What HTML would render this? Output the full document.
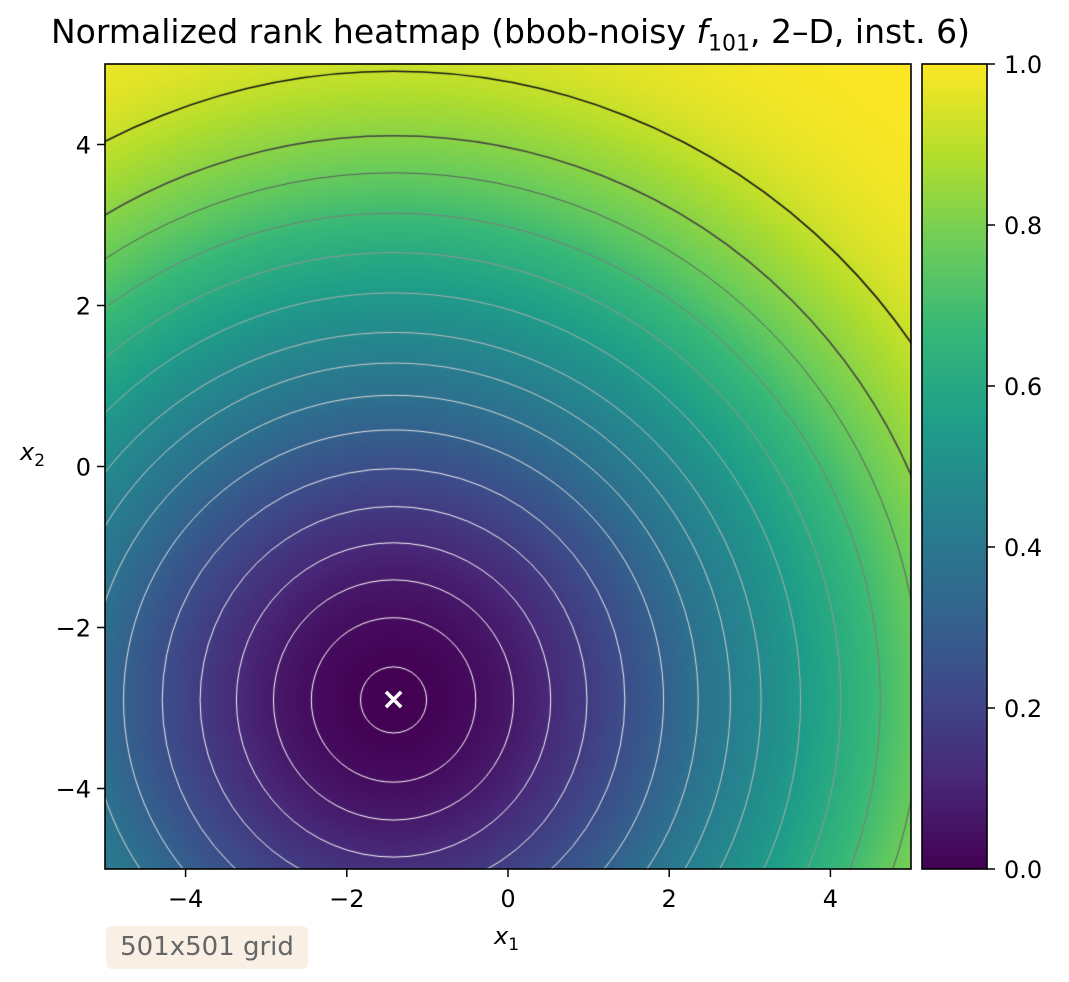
<!DOCTYPE html>
<html><head><meta charset="utf-8"><style>
body{margin:0;background:#fff;width:1069px;height:982px;position:relative;overflow:hidden;font-family:"DejaVu Sans","Liberation Sans",sans-serif;}
.abs{position:absolute;}
</style></head><body>
<div class="abs" style="left:0;width:1021px;top:12px;text-align:center;font-size:33px;white-space:nowrap;">Normalized rank heatmap (bbob-noisy <i>f</i><sub style="font-size:22px">101</sub>, 2–D, inst. 6)</div>
<canvas id="hm" class="abs" width="806" height="805" style="left:105px;top:64px;"></canvas>
<canvas id="cb" class="abs" width="65" height="805" style="left:922px;top:64px;"></canvas>
<svg id="ax" class="abs" width="1069" height="982" style="left:0;top:0"></svg>
<div class="abs" style="left:494px;top:922px;font-size:24px;"><i>x</i><sub style="font-size:17px">1</sub></div>
<div class="abs" style="left:20px;top:438px;font-size:24px;"><i>x</i><sub style="font-size:17px">2</sub></div>
<div class="abs" style="left:106px;top:926px;width:202px;height:43px;background:#f9efe5;border-radius:6px;color:#666;font-size:26px;line-height:43px;text-align:center;white-space:nowrap;">501x501 grid</div>
<script>
const xTicks=[-4,-2,0,2,4];
const yTicks=[-4,-2,0,2,4];
const cbTicks=[0.0,0.2,0.4,0.6,0.8,1.0];
const optimum=[-1.42,-2.9];
const gridN=201;
const contourLevels=[0.41,1.02,1.49,1.95,2.4,2.87,3.35,3.78,4.18,4.56,5.05,5.55,6.04,6.54,7.0,7.8];
const viridis=[[68,1,84],[72,40,120],[62,74,137],[49,104,142],[38,130,142],[31,158,137],[53,183,121],[109,205,89],[180,222,44],[253,231,37]];

const PX0=105,PX1=911,PY0=64,PY1=869;
const sx=v=>PX0+(v+5)/10*(PX1-PX0);
const sy=v=>PY1-(v+5)/10*(PY1-PY0);
function cmap(t){t=Math.max(0,Math.min(1,t));const f=t*(viridis.length-1);const i=Math.min(viridis.length-2,Math.floor(f));const u=f-i;
 return viridis[i].map((c,k)=>Math.round(c+(viridis[i+1][k]-c)*u));}
const d=[];for(let j=0;j<gridN;j++)for(let i=0;i<gridN;i++){const x=-5+10*i/(gridN-1),y=5-10*j/(gridN-1);d.push(Math.hypot(x-optimum[0],y-optimum[1]));}
const sorted=d.slice().sort((a,b)=>a-b);
function rankOf(v){let lo=0,hi=sorted.length;while(lo<hi){const m=(lo+hi)>>1;if(sorted[m]<v)lo=m+1;else hi=m;}return lo/(sorted.length-1);}
const small=document.createElement('canvas');small.width=gridN;small.height=gridN;
const sc=small.getContext('2d');const img=sc.createImageData(gridN,gridN);
d.forEach((v,k)=>{const c=cmap(rankOf(v));img.data[4*k]=c[0];img.data[4*k+1]=c[1];img.data[4*k+2]=c[2];img.data[4*k+3]=255;});
sc.putImageData(img,0,0);
const hm=document.getElementById('hm').getContext('2d');
hm.imageSmoothingEnabled=true;hm.drawImage(small,0,0,806,805);
hm.save();hm.beginPath();hm.rect(0,0,806,805);hm.clip();
contourLevels.forEach((r)=>{const rk=rankOf(r);const gg=Math.max(0,Math.min(255,Math.round(255*(1-rk*rk*1.1))));
 hm.strokeStyle=`rgb(${gg},${gg},${gg})`;hm.lineWidth=rk>0.8?1.6:1.0;
 hm.beginPath();hm.arc(sx(optimum[0])-PX0,sy(optimum[1])-PY0,r*(PX1-PX0)/10,0,2*Math.PI);hm.stroke();});
hm.restore();
const cb=document.getElementById('cb').getContext('2d');
for(let y=0;y<805;y++){const c=cmap(1-y/804);cb.fillStyle=`rgb(${c})`;cb.fillRect(0,y,65,1);}
const NS='http://www.w3.org/2000/svg';const svg=document.getElementById('ax');
function el(t,a){const e=document.createElementNS(NS,t);for(const k in a)e.setAttribute(k,a[k]);svg.appendChild(e);return e;}
const fr=el('rect',{x:PX0,y:PY0,width:PX1-PX0,height:PY1-PY0,fill:'none',stroke:'#000','stroke-width':1.6});

const cf=el('rect',{x:922,y:PY0,width:65,height:PY1-PY0,fill:'none',stroke:'#000','stroke-width':1.6});

const ms=el('text',{x:sx(optimum[0]),y:sy(optimum[1])+9,'text-anchor':'middle','font-size':30,'font-weight':'bold',fill:'#fff','font-family':'DejaVu Sans'});
ms.textContent='×';

const lab=v=>(v<0?'−':'')+Math.abs(v);
xTicks.forEach(v=>{const x=sx(v);el('line',{x1:x,x2:x,y1:PY1,y2:PY1+8,stroke:'#000','stroke-width':1.5});
 const t=el('text',{x:x,y:PY1+38,'text-anchor':'middle','font-size':24,'font-family':'DejaVu Sans'});t.textContent=lab(v);
 });
yTicks.forEach(v=>{const y=sy(v);el('line',{x1:PX0-8,x2:PX0,y1:y,y2:y,stroke:'#000','stroke-width':1.5});
 const t=el('text',{x:PX0-14,y:y+9,'text-anchor':'end','font-size':24,'font-family':'DejaVu Sans'});t.textContent=lab(v);
 });
cbTicks.forEach(v=>{const y=PY1-v*(PY1-PY0);el('line',{x1:987,x2:995,y1:y,y2:y,stroke:'#000','stroke-width':1.5});
 const t=el('text',{x:1004,y:y+9,'font-size':24,'font-family':'DejaVu Sans'});t.textContent=v.toFixed(1);
 });
</script>
</body></html>
